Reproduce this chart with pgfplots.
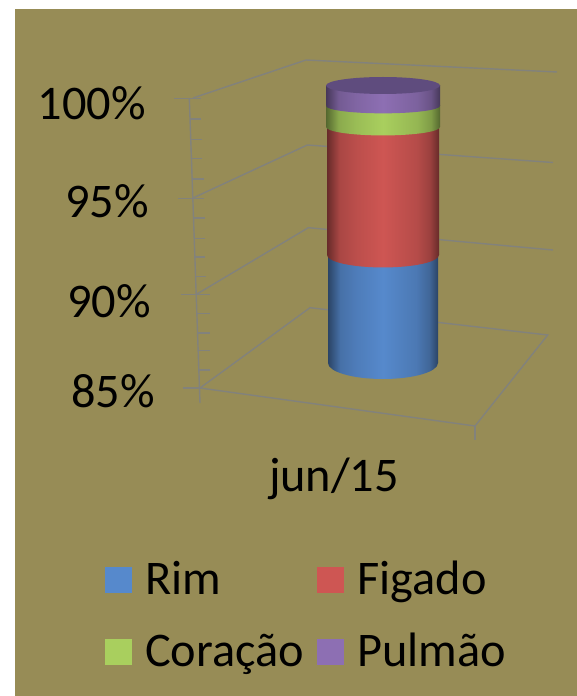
\documentclass[border=0pt]{standalone}
\usepackage{fontspec}
\setmainfont{Carlito}
\usepackage{pgfplots}
\pgfplotsset{compat=1.18}
\definecolor{olivebg}{HTML}{978C56}
\definecolor{gridc}{HTML}{82827C}
\definecolor{rimc}{HTML}{5689CC}
\definecolor{figc}{HTML}{CE5653}
\definecolor{corc}{HTML}{A9CF5E}
\definecolor{pulc}{HTML}{8D6FB3}
\definecolor{topc}{HTML}{5F4C7E}
\newcommand\cyl[2]{%
\colorlet{#1a}{#2!50!black}\colorlet{#1b}{#2!82!black}\colorlet{#1c}{#2!91!black}%
\colorlet{#1d}{#2!88!black}\colorlet{#1e}{#2!75!black}%
\pgfdeclarehorizontalshading{#1}{100bp}{color(0bp)=(#1a); color(25bp)=(#1a); color(30.5bp)=(#1b); color(38bp)=(#1c); color(50bp)=(#2); color(65bp)=(#1d); color(71bp)=(#1e); color(75bp)=(#1a); color(100bp)=(#1a)}}
\cyl{shR}{rimc}\cyl{shF}{figc}\cyl{shC}{corc}\cyl{shP}{pulc}
\newcommand\bigfont{\fontsize{48.5}{57}\selectfont}
\newcommand\lifted[1]{\hspace*{13bp}\raisebox{20bp}[0pt][0pt]{#1}\rule{0pt}{44bp}}
\newcommand\swatch[1]{\pgfsetfillcolor{#1}\pgfpathrectangle{\pgfpoint{0bp}{0bp}}{\pgfpoint{27bp}{26bp}}\pgfusepath{fill}%
  \pgfpathrectangle{\pgfpoint{0bp}{-28bp}}{\pgfpoint{27bp}{72bp}}\pgfusepath{discard}}
\tikzset{gl/.style={gridc,solid,line width=1.4bp,mark=none}}
\begin{document}
\begin{tikzpicture}[x=1bp,y=1bp]
% background and the 3D frame, in pixel coordinates
\begin{axis}[at={(0bp,0bp)},anchor=south west,scale only axis,width=577bp,height=696bp,
  xmin=0,xmax=577,ymin=0,ymax=696,y dir=reverse,hide axis,clip=true]
\addplot[fill=white,draw=none] coordinates {(0,0)(577,0)(577,696)(0,696)} -- cycle;
\addplot[fill=olivebg,draw=none] coordinates {(15,9)(577,9)(577,696)(15,696)} -- cycle;
\addplot[gl] coordinates {(189.3,98.3)(200,403)};
\addplot[gl] coordinates {(174,98.3)(201,98.3)};
\addplot[gl] coordinates {(178,198.3)(203.7,198.3)};
\addplot[gl] coordinates {(180.7,294.3)(210,294.3)};
\addplot[gl] coordinates {(183,388)(200,388)};
\addplot[gl] coordinates {(190,119)(201,119)};
\addplot[gl] coordinates {(191,139.7)(202,139.7)};
\addplot[gl] coordinates {(191,158.7)(202,158.7)};
\addplot[gl] coordinates {(192,179)(203.7,179)};
\addplot[gl] coordinates {(193,218)(205,218)};
\addplot[gl] coordinates {(194,238.3)(205,238.3)};
\addplot[gl] coordinates {(195,257)(205,257)};
\addplot[gl] coordinates {(196,276.7)(206,276.7)};
\addplot[gl] coordinates {(197,313.7)(210,313.7)};
\addplot[gl] coordinates {(198,333)(210,333)};
\addplot[gl] coordinates {(199,350.7)(210,350.7)};
\addplot[gl] coordinates {(199,370)(210,370)};
\addplot[gl] coordinates {(193,98)(306,60)(557,72)};
\addplot[gl] coordinates {(193,198)(307.3,145)(553,162.5)};
\addplot[gl] coordinates {(197,294)(308.3,227.7)(553,250)};
\addplot[gl] coordinates {(200,388)(310,307.7)(547.7,335)(475,426)(200,388)};
\addplot[gl] coordinates {(475,426)(475,440)};
\end{axis}
% tick labels
\begin{axis}[at={(155bp,304bp)},anchor=south west,scale only axis,width=422bp,height=292bp,
  xmin=155,xmax=577,ymin=85,ymax=100,
  axis line style={draw=none},major tick style={draw=none},minor tick num=0,
  major tick length=0pt,
  ytick={85.05,89.67,94.81,99.85},
  yticklabels={85\%,90\%\hspace*{4bp},95\%\hspace*{6bp},100\%\hspace*{9bp}},
  xtick={334},xticklabels={jun/15},
  y tick label style={font=\bigfont,inner sep=0pt,anchor=east},
  x tick label style={font=\bigfont,inner sep=0pt,anchor=center,yshift=-87bp},
  ]
\addplot[draw=none,forget plot] coordinates {(200,90)};
\end{axis}
% stacked cylinder and legend
\begin{axis}[at={(0bp,333bp)},anchor=south west,scale only axis,width=577bp,height=277.5bp,
  xmin=0,xmax=577,ymin=85,ymax=100,hide axis,clip=false,
  ybar stacked,bar shift=0pt,
  legend columns=2,
  legend cell align=left,
  legend style={at={(axis cs:105,74.95)},anchor=north west,draw=none,fill=none,font=\bigfont,
    inner sep=0pt,outer sep=0pt,
    /tikz/every even column/.append style={column sep=13.5bp},
    nodes={inner xsep=0pt,inner ysep=0pt}},
  after end axis/.code={
    \path[shade,shading=shR] (axis cs:383,85) ellipse [x radius=55bp,y radius=16bp];
    \path[shade,shading=shF] (axis cs:383,90.84) ellipse [x radius=56bp,y radius=12.5bp];
    \path[shade,shading=shC] (axis cs:383,97.76) ellipse [x radius=57bp,y radius=8.5bp];
    \path[shade,shading=shP] (axis cs:383,98.9) ellipse [x radius=57bp,y radius=7.5bp];
    \path[fill=topc] (axis cs:383,100) ellipse [x radius=57bp,y radius=8.5bp];
  },
  ]
\addplot[draw=none,fill=none,bar width=110bp,forget plot] coordinates {(383,85)};
\addplot[draw=none,shade,shading=shR,bar width=110bp,
  legend image code/.code={\swatch{rimc}}] coordinates {(383,5.84)};
\addlegendentry{\lifted{Rim}}
\addplot[draw=none,shade,shading=shF,bar width=112bp,
  legend image code/.code={\swatch{figc}}] coordinates {(383,6.92)};
\addlegendentry{\lifted{Figado}}
\addplot[draw=none,shade,shading=shC,bar width=114bp,
  legend image code/.code={\swatch{corc}}] coordinates {(383,1.14)};
\addlegendentry{\lifted{Coração}}
\addplot[draw=none,shade,shading=shP,bar width=114bp,
  legend image code/.code={\swatch{pulc}}] coordinates {(383,1.10)};
\addlegendentry{\lifted{Pulmão}}
\end{axis}
\end{tikzpicture}
\end{document}
